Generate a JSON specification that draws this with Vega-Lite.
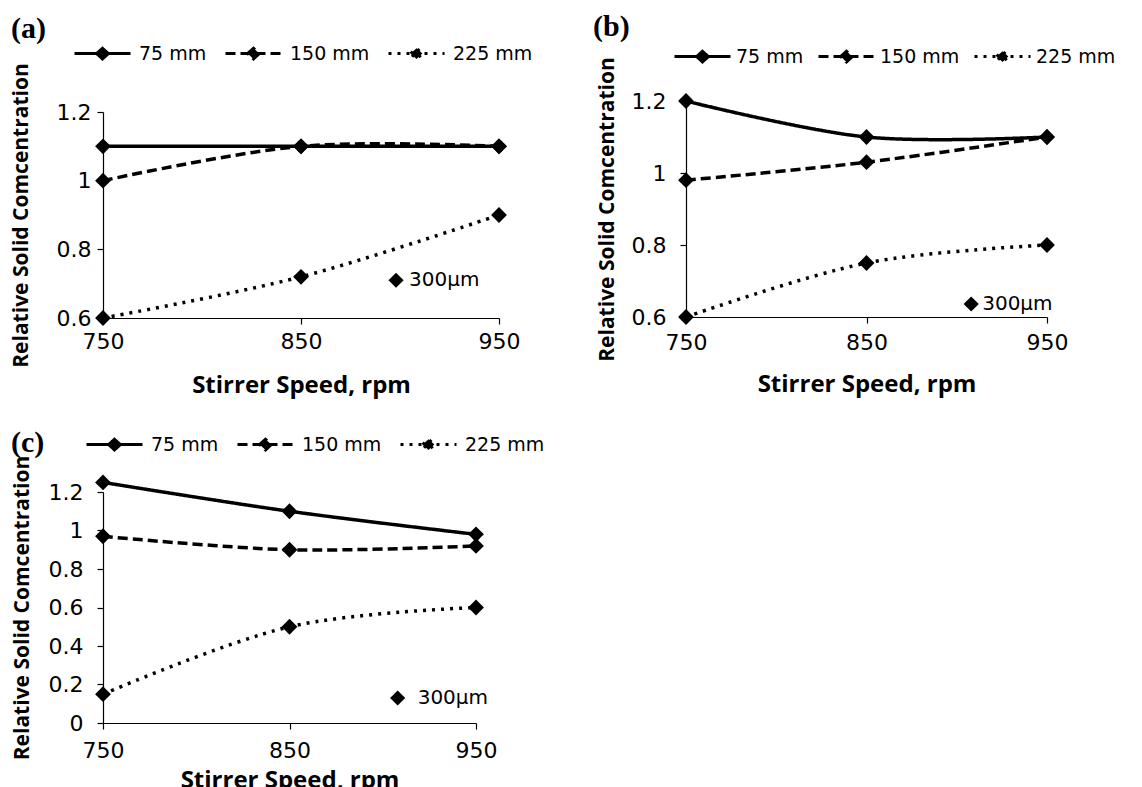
{
  "$schema": "https://vega.github.io/schema/vega-lite/v6.json",
  "background": "white",
  "padding": {"left": 10, "top": 12, "right": 0, "bottom": 0},
  "config": {
    "view": {"stroke": null},
    "axis": {"grid": false, "domainColor": "black", "tickColor": "black", "labelColor": "black", "titleColor": "black", "labelFont": "DejaVu Sans", "labelFontSize": 22, "titleFont": "Open Sans", "titleFontWeight": "bold", "tickSize": 6, "domainWidth": 1.2, "tickWidth": 1.2},
    "axisX": {"titleFontSize": 24, "labelFlush": false},
    "axisY": {"titleFontSize": 21},
    "title": {"font": "Liberation Serif", "fontWeight": "bold", "fontSize": 30, "color": "black", "anchor": "start", "frame": "group"}
  },
  "datasets": {
    "a": [
      {"series": "75 mm", "speed": 750, "value": 1.1},
      {"series": "75 mm", "speed": 850, "value": 1.1},
      {"series": "75 mm", "speed": 950, "value": 1.1},
      {"series": "150 mm", "speed": 750, "value": 1.0},
      {"series": "150 mm", "speed": 850, "value": 1.1},
      {"series": "150 mm", "speed": 950, "value": 1.1},
      {"series": "225 mm", "speed": 750, "value": 0.6},
      {"series": "225 mm", "speed": 850, "value": 0.72},
      {"series": "225 mm", "speed": 950, "value": 0.9}
    ],
    "b": [
      {"series": "75 mm", "speed": 750, "value": 1.2},
      {"series": "75 mm", "speed": 850, "value": 1.1},
      {"series": "75 mm", "speed": 950, "value": 1.1},
      {"series": "150 mm", "speed": 750, "value": 0.98},
      {"series": "150 mm", "speed": 850, "value": 1.03},
      {"series": "150 mm", "speed": 950, "value": 1.1},
      {"series": "225 mm", "speed": 750, "value": 0.6},
      {"series": "225 mm", "speed": 850, "value": 0.75},
      {"series": "225 mm", "speed": 950, "value": 0.8}
    ],
    "c": [
      {"series": "75 mm", "speed": 750, "value": 1.25},
      {"series": "75 mm", "speed": 850, "value": 1.1},
      {"series": "75 mm", "speed": 950, "value": 0.98},
      {"series": "150 mm", "speed": 750, "value": 0.97},
      {"series": "150 mm", "speed": 850, "value": 0.9},
      {"series": "150 mm", "speed": 950, "value": 0.92},
      {"series": "225 mm", "speed": 750, "value": 0.15},
      {"series": "225 mm", "speed": 850, "value": 0.5},
      {"series": "225 mm", "speed": 950, "value": 0.6}
    ],
    "notes": [
      {"panel": "a", "speed": 898, "value": 0.71, "label": "300µm"},
      {"panel": "b", "speed": 908, "value": 0.636, "label": "300µm"},
      {"panel": "c", "speed": 908, "value": 0.13, "label": "300µm"}
    ]
  },
  "columns": 2,
  "spacing": {"row": 174, "column": 187},
  "bounds": "flush",
  "resolve": {"scale": {"strokeDash": "independent"}, "legend": {"strokeDash": "independent"}},
  "concat": [
    {
      "width": 396, "height": 217,
      "title": {"text": "(a)", "dx": -92, "offset": -20},
      "encoding": {
        "x": {"field": "speed", "type": "quantitative", "scale": {"domain": [750, 950], "nice": false, "zero": false}, "axis": {"values": [750, 850, 950], "title": "Stirrer Speed, rpm", "labelPadding": 7, "titlePadding": 21}},
        "y": {"field": "value", "type": "quantitative", "scale": {"domain": [0.6, 1.2], "nice": false, "zero": false, "range": [217, 11]}, "axis": {"values": [0.6, 0.8, 1, 1.2], "format": ".2~f", "title": "Relative Solid Comcentration", "labelPadding": 6, "titlePadding": 25}}
      },
      "layer": [
        {"data": {"name": "a"}, "mark": {"type": "line", "interpolate": "cardinal", "color": "black", "strokeWidth": 3.5},
         "encoding": {"strokeDash": {"field": "series", "type": "nominal", "sort": null, "scale": {"domain": ["75 mm", "150 mm", "225 mm"], "range": [[1, 0], [10, 5], [3, 6]]},
           "legend": {"title": null, "orient": "none", "legendX": -30, "legendY": -77, "direction": "horizontal", "symbolType": "M-1,0L1,0M-0.21,0L0,-0.19L0.21,0L0,0.19Z", "symbolSize": 3136, "symbolStrokeWidth": 3, "symbolStrokeColor": "black", "symbolFillColor": "black", "symbolOpacity": 1, "labelFont": "DejaVu Sans", "labelFontSize": 19, "labelColor": "black", "labelOffset": 7, "columnPadding": 12, "padding": 0, "encode": {"symbols": {"update": {"fill": {"value": "black"}, "stroke": {"value": "black"}}}}}}}},
        {"data": {"name": "a"}, "mark": {"type": "point", "shape": "diamond", "filled": true, "color": "black", "size": 250, "opacity": 1}, "encoding": {}},
        {"data": {"name": "notes"}, "transform": [{"filter": "datum.panel == 'a'"}], "mark": {"type": "point", "shape": "diamond", "filled": true, "color": "black", "size": 230, "opacity": 1}, "encoding": {}},
        {"data": {"name": "notes"}, "transform": [{"filter": "datum.panel == 'a'"}], "mark": {"type": "text", "align": "left", "baseline": "middle", "dx": 13, "font": "DejaVu Sans", "fontSize": 20, "color": "black"}, "encoding": {"text": {"field": "label"}}}
      ]
    },
    {
      "width": 361, "height": 216,
      "title": {"text": "(b)", "dx": -93, "offset": -15},
      "encoding": {
        "x": {"field": "speed", "type": "quantitative", "scale": {"domain": [750, 950], "nice": false, "zero": false}, "axis": {"values": [750, 850, 950], "title": "Stirrer Speed, rpm", "labelPadding": 9, "titlePadding": 19}},
        "y": {"field": "value", "type": "quantitative", "scale": {"domain": [0.6, 1.2], "nice": false, "zero": false}, "axis": {"values": [0.6, 0.8, 1, 1.2], "format": ".2~f", "title": "Relative Solid Comcentration", "labelPadding": 14, "titlePadding": 14}}
      },
      "layer": [
        {"data": {"name": "b"}, "mark": {"type": "line", "interpolate": "cardinal", "color": "black", "strokeWidth": 3.5},
         "encoding": {"strokeDash": {"field": "series", "type": "nominal", "sort": null, "scale": {"domain": ["75 mm", "150 mm", "225 mm"], "range": [[1, 0], [10, 5], [3, 6]]},
           "legend": {"title": null, "orient": "none", "legendX": -13, "legendY": -74, "direction": "horizontal", "symbolType": "M-1,0L1,0M-0.21,0L0,-0.19L0.21,0L0,0.19Z", "symbolSize": 3136, "symbolStrokeWidth": 3, "symbolStrokeColor": "black", "symbolFillColor": "black", "symbolOpacity": 1, "labelFont": "DejaVu Sans", "labelFontSize": 19, "labelColor": "black", "labelOffset": 4, "columnPadding": 8, "padding": 0, "encode": {"symbols": {"update": {"fill": {"value": "black"}, "stroke": {"value": "black"}}}}}}}},
        {"data": {"name": "b"}, "mark": {"type": "point", "shape": "diamond", "filled": true, "color": "black", "size": 250, "opacity": 1}, "encoding": {}},
        {"data": {"name": "notes"}, "transform": [{"filter": "datum.panel == 'b'"}], "mark": {"type": "point", "shape": "diamond", "filled": true, "color": "black", "size": 230, "opacity": 1}, "encoding": {}},
        {"data": {"name": "notes"}, "transform": [{"filter": "datum.panel == 'b'"}], "mark": {"type": "text", "align": "left", "baseline": "middle", "dx": 11, "font": "DejaVu Sans", "fontSize": 20, "color": "black"}, "encoding": {"text": {"field": "label"}}}
      ]
    },
    {
      "width": 373, "height": 231,
      "title": {"text": "(c)", "dx": -92, "offset": -43},
      "encoding": {
        "x": {"field": "speed", "type": "quantitative", "scale": {"domain": [750, 950], "nice": false, "zero": false}, "axis": {"values": [750, 850, 950], "title": "Stirrer Speed, rpm", "labelPadding": 11, "titlePadding": 7}},
        "y": {"field": "value", "type": "quantitative", "scale": {"domain": [0, 1.2], "nice": false, "zero": false}, "axis": {"values": [0, 0.2, 0.4, 0.6, 0.8, 1, 1.2], "format": ".2~f", "title": "Relative Solid Comcentration", "labelPadding": 14, "titlePadding": 16}}
      },
      "layer": [
        {"data": {"name": "c"}, "mark": {"type": "line", "interpolate": "cardinal", "color": "black", "strokeWidth": 3.5},
         "encoding": {"strokeDash": {"field": "series", "type": "nominal", "sort": null, "scale": {"domain": ["75 mm", "150 mm", "225 mm"], "range": [[1, 0], [10, 5], [3, 6]]},
           "legend": {"title": null, "orient": "none", "legendX": -18, "legendY": -77, "direction": "horizontal", "symbolType": "M-1,0L1,0M-0.21,0L0,-0.19L0.21,0L0,0.19Z", "symbolSize": 3136, "symbolStrokeWidth": 3, "symbolStrokeColor": "black", "symbolFillColor": "black", "symbolOpacity": 1, "labelFont": "DejaVu Sans", "labelFontSize": 19, "labelColor": "black", "labelOffset": 7, "columnPadding": 12, "padding": 0, "encode": {"symbols": {"update": {"fill": {"value": "black"}, "stroke": {"value": "black"}}}}}}}},
        {"data": {"name": "c"}, "mark": {"type": "point", "shape": "diamond", "filled": true, "color": "black", "size": 250, "opacity": 1}, "encoding": {}},
        {"data": {"name": "notes"}, "transform": [{"filter": "datum.panel == 'c'"}], "mark": {"type": "point", "shape": "diamond", "filled": true, "color": "black", "size": 230, "opacity": 1}, "encoding": {}},
        {"data": {"name": "notes"}, "transform": [{"filter": "datum.panel == 'c'"}], "mark": {"type": "text", "align": "left", "baseline": "middle", "dx": 20, "font": "DejaVu Sans", "fontSize": 20, "color": "black"}, "encoding": {"text": {"field": "label"}}}
      ]
    }
  ]
}
